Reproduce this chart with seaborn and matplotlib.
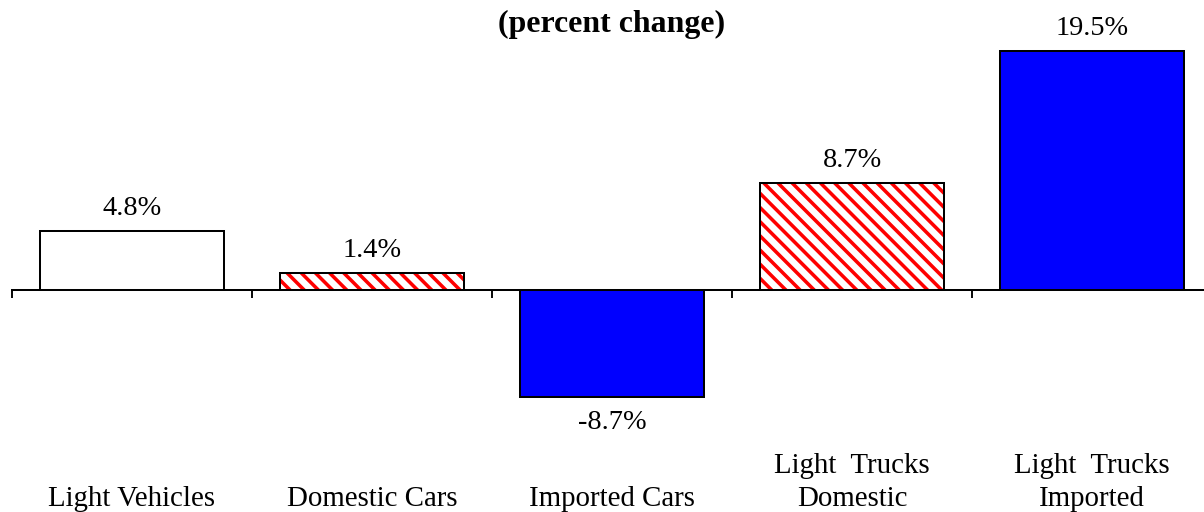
import matplotlib
matplotlib.use("Agg")
import matplotlib.pyplot as plt
import matplotlib.transforms as mtransforms
import seaborn as sns

# Year-over-year sales change by vehicle segment
categories = ["Light Vehicles", "Domestic Cars", "Imported Cars",
              "Light  Trucks\nDomestic", "Light  Trucks\nImported"]
values = [4.8, 1.4, -8.7, 8.7, 19.5]
value_labels = ["4.8%", "1.4%", "-8.7%", "8.7%", "19.5%"]
fills = ["white", "white", "#0000FF", "white", "#0000FF"]
hatches = ["", "\\\\", "", "\\\\", ""]
title = "(percent change)"

DPI = 85
W, H = 1204, 512

sns.set_style("white")
plt.rcParams["font.family"] = ["Liberation Serif", "DejaVu Serif"]
plt.rcParams["hatch.linewidth"] = 3.0
plt.rcParams["text.color"] = "black"

fig = plt.figure(figsize=(W / DPI, H / DPI), dpi=DPI)
# plot area in pixels: x from 12 to 1212, y-range chosen so that 0 sits at 290 px
ymin, ymax = -15.0, 22.0
px_per_unit = 239 / 19.5
top_px = 290 - ymax * px_per_unit
bot_px = 290 - ymin * px_per_unit
ax = fig.add_axes([12 / W, 1 - bot_px / H, 1200 / W, (bot_px - top_px) / H])

# fills and hatching (hatch colour follows the edge colour)
edge_fill = ["none" if h == "" else "red" for h in hatches]
sns.barplot(x=categories, y=values, hue=categories, palette=fills, legend=False,
            width=0.77, linewidth=0, saturation=1, ax=ax)
for patch, h, ec in zip(ax.patches, hatches, edge_fill):
    patch.set_hatch(h)
    patch.set_edgecolor(ec)
    patch.set_linewidth(0)

# black outlines on top
sns.barplot(x=categories, y=values, width=0.77, fill=False, color="black",
            linewidth=1.7, ax=ax)

ax.set_ylim(ymin, ymax)
ax.set_xlim(-0.5, len(categories) - 0.5)

# axis line at zero with ticks at category boundaries
for side in ("left", "right", "top"):
    ax.spines[side].set_visible(False)
ax.spines["bottom"].set_position(("data", 0))
ax.spines["bottom"].set_linewidth(1.7)
ax.spines["bottom"].set_color("black")
ax.set_xticks([i - 0.5 for i in range(len(categories) + 1)])
ax.set_xticklabels([])
ax.tick_params(axis="x", direction="out", length=6.5, width=1.6, color="black", bottom=True)
ax.set_yticks([])
ax.set_xlabel("")
ax.set_ylabel("")

# value labels
for i, (v, lab) in enumerate(zip(values, value_labels)):
    if v >= 0:
        ax.annotate(lab, (i, v), xytext=(0, 10), textcoords="offset pixels",
                    ha="center", va="bottom", fontsize=24, color="black")
    else:
        ax.annotate(lab, (i, v), xytext=(0, -13), textcoords="offset pixels",
                    ha="center", va="top", fontsize=24, color="black")

# category names along the bottom edge
trans = mtransforms.blended_transform_factory(ax.transData, fig.transFigure)
for i, name in enumerate(categories):
    ax.text(i, 0.0, name, transform=trans, ha="center", va="bottom",
            fontsize=24.5, linespacing=1.35, multialignment="center", color="black")

fig.text((12 + 600) / W, 1 - 24 / H, title, ha="center", va="center",
         fontsize=27, fontweight="bold", color="black")

fig.savefig("out.png", dpi=DPI)
